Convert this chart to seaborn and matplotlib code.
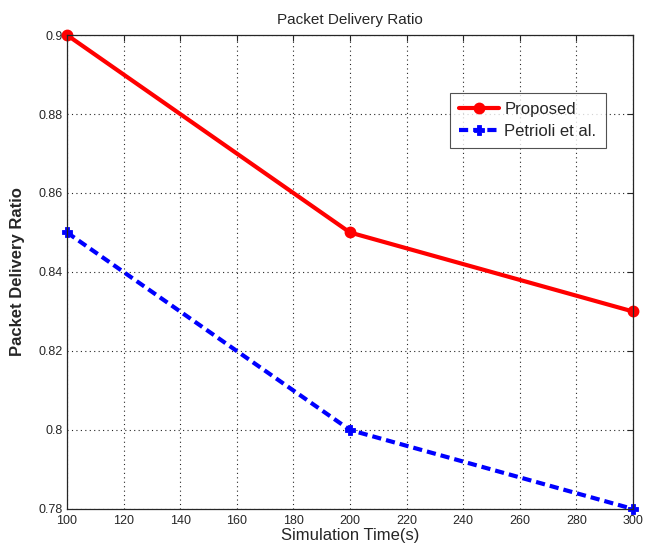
import matplotlib
matplotlib.use("Agg")
import matplotlib.pyplot as plt
import seaborn as sns
import pandas as pd

x_time = [100, 200, 300]
proposed = [0.90, 0.85, 0.83]
petrioli = [0.85, 0.80, 0.78]
x_ticks = [100, 120, 140, 160, 180, 200, 220, 240, 260, 280, 300]
y_ticks = [0.78, 0.80, 0.82, 0.84, 0.86, 0.88, 0.90]
y_tick_labels = ["0.78", "0.8", "0.82", "0.84", "0.86", "0.88", "0.9"]

sns.set_style("white")
plt.rcParams['font.family'] = ['Liberation Sans', 'DejaVu Sans']

df = pd.DataFrame({"x": x_time * 2,
                   "y": proposed + petrioli,
                   "s": ["Proposed"] * 3 + ["Petrioli et al."] * 3})

fig = plt.figure(figsize=(6.49, 5.53), dpi=100)
ax = fig.add_axes([0.1032, 0.0796, 0.8721, 0.8571])

sns.lineplot(data=df[df.s == "Proposed"], x="x", y="y", ax=ax, color="#ff0000",
             linewidth=3, marker="o", markersize=7, markeredgewidth=1.5,
             markerfacecolor="#ff0000", markeredgecolor="#ff0000", label="Proposed", clip_on=False)
sns.lineplot(data=df[df.s == "Petrioli et al."], x="x", y="y", ax=ax, color="#0000ff",
             linewidth=3, linestyle=(0, (2.2, 1.2)), marker="P", markersize=7,
             markeredgewidth=0.6, markerfacecolor="#0000ff", markeredgecolor="#0000ff",
             label="Petrioli et al.", clip_on=False)

ax.set_xlim(100, 300)
ax.set_ylim(0.78, 0.90)
ax.set_xticks(x_ticks)
ax.set_yticks(y_ticks)
ax.set_yticklabels(y_tick_labels)
ax.tick_params(direction="in", length=4, labelsize=9, top=True, right=True,
               color="#262626", labelcolor="#262626")
ax.tick_params(axis="y", pad=3)
ax.tick_params(axis="x", pad=4)
ax.grid(True, linestyle=(0, (1, 3)), color="#262626", linewidth=0.8)
for s in ax.spines.values():
    s.set_color("#262626")
    s.set_linewidth(0.9)

ax.set_title("Packet Delivery Ratio", fontsize=11, pad=8)
ax.set_xlabel("Simulation Time(s)", fontsize=12, labelpad=1)
ax.set_ylabel("Packet Delivery Ratio", fontsize=12, fontweight="bold", labelpad=10)

leg = ax.legend(loc="upper left", bbox_to_anchor=(0.6625, 0.895), fontsize=12,
                frameon=True, fancybox=False, edgecolor="#262626",
                handlelength=2.4, borderpad=0.55, labelspacing=0.4, handletextpad=0.3)
leg.get_frame().set_linewidth(0.8)

fig.savefig("out.png", dpi=100)
